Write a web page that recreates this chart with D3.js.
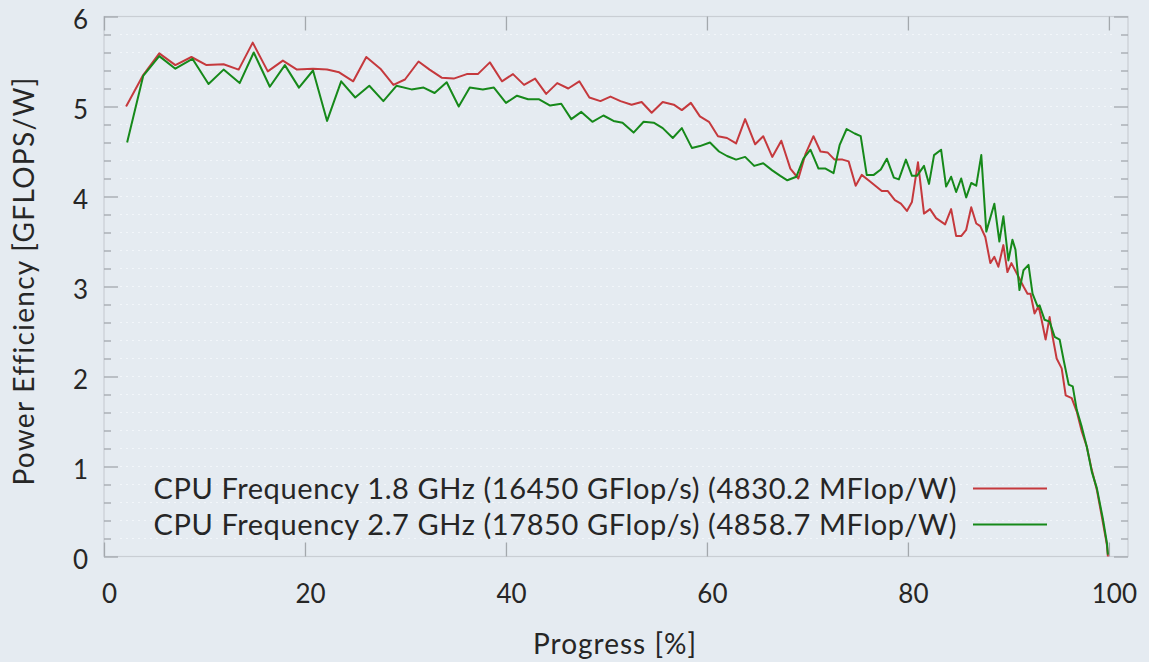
<!DOCTYPE html>
<html>
<head>
<meta charset="utf-8">
<script src="https://cdn.jsdelivr.net/npm/d3@7"></script>
<style>
  body { margin: 0; background: #e5ebf1; }
  text { font-family: Lato, "Open Sans", sans-serif; fill: #262626; }
</style>
</head>
<body>
<div id="chart"></div>
<script>
var w = 1149;
var h = 662;

// progress [%] and efficiency [GFLOPS/W]
var redX = [2.2, 3.9, 5.5, 7.1, 8.7, 10.2, 11.9, 13.4, 14.8, 16.3, 17.8, 19.2, 20.8, 22.2, 23.4, 24.8, 26.1, 27.5, 28.8, 29.95,
  31.3, 32.4, 33.6, 34.8, 36.1, 37.2, 38.4, 39.6, 40.7, 41.8, 42.9, 44.0, 45.1, 46.2, 47.3, 48.3, 49.4, 50.4, 51.4, 52.5,
  53.5, 54.5, 55.6, 56.7, 57.5, 58.4, 59.3, 60.2, 61.1, 62.0, 62.9, 63.8, 64.8, 65.6, 66.5, 67.4, 68.3, 69.1, 69.8, 70.6,
  71.3, 72.0, 72.7, 73.5, 74.1, 74.8, 75.4, 76.2, 77.4, 78.0, 78.7, 79.3, 79.9, 80.4, 81.0, 81.6, 82.2, 82.8, 83.7, 84.3,
  84.8, 85.3, 85.8, 86.3, 86.8, 87.2, 87.7, 88.2, 88.6, 89.0, 89.5, 89.9, 90.3, 90.9, 91.5, 91.9, 92.2, 92.6, 93.0, 93.3,
  93.7, 94.1, 94.4, 94.8, 95.3, 95.7, 96.3, 96.8, 97.3, 97.8, 98.3, 98.8, 99.3, 99.8, 99.9];
var redY = [5.00, 5.35, 5.59, 5.46, 5.55, 5.46, 5.47, 5.41, 5.71, 5.39, 5.51, 5.41, 5.42, 5.41, 5.38, 5.28, 5.55, 5.42, 5.24, 5.30,
  5.50, 5.41, 5.32, 5.31, 5.36, 5.36, 5.49, 5.28, 5.36, 5.24, 5.31, 5.14, 5.26, 5.20, 5.28, 5.10, 5.06, 5.11, 5.06, 5.02,
  5.05, 4.93, 5.05, 5.02, 4.96, 5.04, 4.89, 4.83, 4.67, 4.65, 4.59, 4.86, 4.58, 4.67, 4.44, 4.62, 4.31, 4.20, 4.47, 4.67,
  4.50, 4.49, 4.41, 4.41, 4.39, 4.12, 4.24, 4.17, 4.06, 4.06, 3.96, 3.92, 3.84, 3.94, 4.38, 3.81, 3.86, 3.76, 3.69, 3.86,
  3.56, 3.56, 3.63, 3.88, 3.70, 3.67, 3.55, 3.26, 3.33, 3.22, 3.46, 3.16, 3.26, 3.13, 3.00, 2.92, 2.92, 2.70, 2.78, 2.63,
  2.41, 2.66, 2.44, 2.20, 2.09, 1.79, 1.76, 1.61, 1.39, 1.22, 0.96, 0.74, 0.44, 0.13, 0.00];

var greenX = [2.3, 3.9, 5.5, 7.1, 8.8, 10.4, 11.9, 13.5, 14.9, 16.5, 18.0, 19.4, 20.8, 22.2, 23.6, 25.0, 26.4, 27.8, 29.1, 30.6,
  31.8, 32.9, 34.1, 35.3, 36.4, 37.7, 38.8, 40.0, 41.1, 42.2, 43.3, 44.4, 45.5, 46.5, 47.5, 48.6, 49.7, 50.7, 51.6, 52.7,
  53.7, 54.7, 55.6, 56.6, 57.5, 58.5, 59.3, 60.3, 61.2, 62.0, 62.9, 63.8, 64.7, 65.6, 66.5, 67.3, 68.0, 68.9, 69.6, 70.3,
  71.1, 71.8, 72.6, 73.2, 73.9, 74.7, 75.3, 75.9, 76.6, 77.3, 77.9, 78.6, 79.1, 79.8, 80.4, 80.9, 81.6, 82.1, 82.6, 83.3,
  83.8, 84.3, 84.8, 85.3, 85.8, 86.3, 86.8, 87.3, 87.8, 88.6, 89.1, 89.5, 90.0, 90.4, 90.7, 91.1, 91.5, 92.0, 92.4, 92.9,
  93.1, 93.6, 94.1, 94.6, 95.1, 95.5, 96.0, 96.4, 96.8, 97.3, 97.8, 98.3, 98.8, 99.4, 99.8, 99.9];
var greenY = [4.60, 5.34, 5.56, 5.42, 5.53, 5.25, 5.41, 5.26, 5.60, 5.22, 5.46, 5.21, 5.40, 4.84, 5.28, 5.10, 5.23, 5.06, 5.23, 5.19,
  5.21, 5.15, 5.27, 5.00, 5.21, 5.19, 5.21, 5.04, 5.12, 5.08, 5.08, 5.01, 5.03, 4.86, 4.94, 4.83, 4.90, 4.84, 4.82, 4.71,
  4.83, 4.82, 4.76, 4.65, 4.76, 4.54, 4.56, 4.60, 4.50, 4.45, 4.41, 4.44, 4.34, 4.37, 4.29, 4.23, 4.18, 4.22, 4.42, 4.52,
  4.31, 4.31, 4.26, 4.57, 4.75, 4.70, 4.67, 4.24, 4.24, 4.30, 4.42, 4.21, 4.19, 4.41, 4.23, 4.23, 4.34, 4.14, 4.46, 4.52,
  4.11, 4.22, 4.05, 4.20, 3.99, 4.15, 4.12, 4.46, 3.61, 3.92, 3.50, 3.78, 3.29, 3.52, 3.41, 2.96, 3.18, 3.24, 2.92, 2.78,
  2.79, 2.63, 2.61, 2.44, 2.41, 2.18, 1.91, 1.89, 1.63, 1.44, 1.22, 0.94, 0.76, 0.42, 0.15, 0.02];

var seriesNames = ["CPU Frequency 1.8 GHz (16450 GFlop/s) (4830.2 MFlop/W)",
                   "CPU Frequency 2.7 GHz (17850 GFlop/s) (4858.7 MFlop/W)"];
var seriesColors = ["#c5393d", "#16891a"];
var xTicks = [0, 20, 40, 60, 80, 100];
var yTicks = [0, 1, 2, 3, 4, 5, 6];
var yMinor = d3.range(0, 30).map(function(i){ return i / 5; });

draw();

function draw(){
    var svg = d3.select("#chart").append("svg")
        .attr("width", w)
        .attr("height", h);

    svg.append("rect").attr("width", w).attr("height", h).attr("fill", "#e5ebf1");

    var x = d3.scaleLinear().domain([0, 101.9]).range([104, 1128]);
    var y = d3.scaleLinear().domain([0, 6]).range([556.5, 16.5]);

    // faint dotted grid
    svg.append("g").selectAll("line")
        .data(yMinor.filter(function(d){ return d > 0; }))
        .enter().append("line")
        .attr("x1", x(0) + 16).attr("x2", x.range()[1] - 16)
        .attr("y1", function(d){ return y(d); })
        .attr("y2", function(d){ return y(d); })
        .attr("stroke", "#f2f6fa")
        .attr("stroke-width", 1.2)
        .attr("stroke-dasharray", "2,4");

    // frame
    svg.append("rect")
        .attr("x", x(0)).attr("y", y(6))
        .attr("width", x.range()[1] - x(0))
        .attr("height", y(0) - y(6))
        .attr("fill", "none")
        .attr("stroke", "#c9ced4")
        .attr("stroke-width", 1.2);

    var tickCol = "#a3a8ad";

    var xb = svg.append("g").attr("transform", "translate(0," + y(0) + ")")
        .call(d3.axisBottom(x).tickValues(xTicks).tickSize(-14).tickPadding(28).tickFormat(d3.format("d")));
    var xt = svg.append("g").attr("transform", "translate(0," + y(6) + ")")
        .call(d3.axisTop(x).tickValues(xTicks).tickSize(-14).tickFormat(""));
    var yl = svg.append("g").attr("transform", "translate(" + x(0) + ",0)")
        .call(d3.axisLeft(y).tickValues(yTicks).tickSize(-14).tickPadding(16).tickFormat(d3.format("d")));
    var ylm = svg.append("g").attr("transform", "translate(" + x(0) + ",0)")
        .call(d3.axisLeft(y).tickValues(yMinor.filter(function(d){ return d % 1 !== 0; })).tickSize(-7).tickFormat(""));
    var yr = svg.append("g").attr("transform", "translate(" + x.range()[1] + ",0)")
        .call(d3.axisRight(y).tickValues(yTicks).tickSize(-14).tickFormat(""));
    var yrm = svg.append("g").attr("transform", "translate(" + x.range()[1] + ",0)")
        .call(d3.axisRight(y).tickValues(yMinor.filter(function(d){ return d % 1 !== 0; })).tickSize(-7).tickFormat(""));

    [xb, xt, yl, ylm, yr, yrm].forEach(function(g){
        g.select(".domain").remove();
        g.selectAll(".tick line").attr("stroke", tickCol).attr("stroke-width", 1.3);
        g.selectAll(".tick text").attr("font-size", "26px").attr("fill", "#262626")
            .style("font-family", "Lato, 'Open Sans', sans-serif");
    });
    xb.selectAll(".tick text").attr("dx", 5);
    yl.selectAll(".tick text").attr("dy", "0.45em");

    var line = d3.line()
        .x(function(d){ return x(d[0]); })
        .y(function(d){ return y(d[1]); });

    var series = [d3.zip(redX, redY), d3.zip(greenX, greenY)];

    svg.selectAll(".series")
        .data(series)
        .enter().append("path")
        .attr("class", "series")
        .attr("d", line)
        .attr("fill", "none")
        .attr("stroke", function(d, i){ return seriesColors[i]; })
        .attr("stroke-width", 2)
        .attr("stroke-linejoin", "round");

    // legend
    var leg = svg.append("g");
    leg.selectAll("text")
        .data(seriesNames)
        .enter().append("text")
        .attr("x", 957)
        .attr("y", function(d, i){ return 488.5 + i * 36; })
        .attr("dy", "0.35em")
        .attr("text-anchor", "end")
        .attr("font-size", "29px")
        .attr("letter-spacing", "0.6px")
        .text(function(d){ return d; });
    leg.selectAll("line")
        .data(seriesNames)
        .enter().append("line")
        .attr("x1", 973).attr("x2", 1047)
        .attr("y1", function(d, i){ return 488.5 + i * 36; })
        .attr("y2", function(d, i){ return 488.5 + i * 36; })
        .attr("stroke", function(d, i){ return seriesColors[i]; })
        .attr("stroke-width", 2);

    // axis titles
    svg.append("text")
        .attr("x", 615).attr("y", 644)
        .attr("dy", "0.36em")
        .attr("text-anchor", "middle")
        .attr("font-size", "28px")
        .attr("letter-spacing", "1px")
        .text("Progress [%]");
    svg.append("text")
        .attr("transform", "translate(24,281) rotate(-90)")
        .attr("dy", "0.36em")
        .attr("text-anchor", "middle")
        .attr("font-size", "28px")
        .attr("letter-spacing", "1.3px")
        .text("Power Efficiency [GFLOPS/W]");
}
</script>
</body>
</html>
